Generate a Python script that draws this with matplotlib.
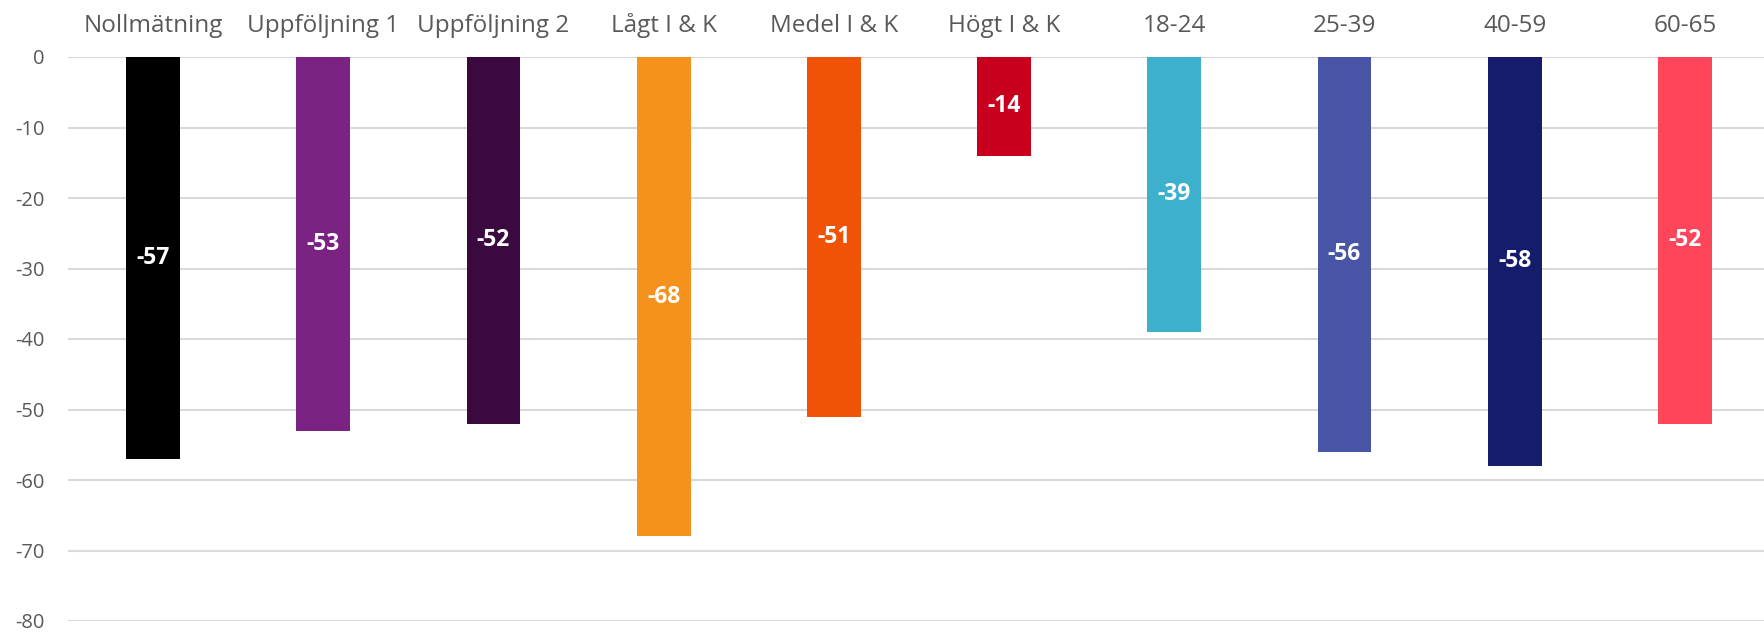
import matplotlib
matplotlib.use("Agg")
import matplotlib.pyplot as plt

categories = ["Nollmätning", "Uppföljning 1", "Uppföljning 2", "Lågt I & K", "Medel I & K",
              "Högt I & K", "18-24", "25-39", "40-59", "60-65"]
values = [-57, -53, -52, -68, -51, -14, -39, -56, -58, -52]
colors = ["#000000", "#7A2382", "#3B0940", "#F5921E", "#F05208",
          "#C8001E", "#3DB0CD", "#4854A5", "#141C6B", "#FF455A"]
yticks = [0, -10, -20, -30, -40, -50, -60, -70, -80]

plt.rcParams['font.family'] = ['Open Sans', 'DejaVu Sans']

fig = plt.figure(figsize=(17.65, 6.33), dpi=100)
ax = fig.add_axes([68/1765, 1 - 621/633, (1770-68)/1765, (621-57)/633])

x = list(range(len(categories)))
bars = ax.bar(x, values, width=0.317, color=colors, zorder=3)
for xi, v in zip(x, values):
    ax.text(xi, v/2, f"{v}", ha="center", va="center", color="white",
            fontsize=16.5, fontweight="bold", zorder=4)

ax.set_xlim(-0.5, len(categories) - 0.5)
ax.set_ylim(-80, 0)
ax.set_yticks(yticks)
ax.set_yticklabels([str(t) for t in yticks], color="#595959", fontsize=14.5)
ax.yaxis.grid(True, color="#D9D9D9", linewidth=1.5, zorder=0)
ax.tick_params(axis="y", length=0, pad=17)
ax.xaxis.tick_top()
ax.set_xticks(x)
ax.set_xticklabels(categories, color="#595959", fontsize=17.5)
ax.tick_params(axis="x", length=0, pad=13.5)
for s in ax.spines.values():
    s.set_visible(False)

fig.savefig("out.png", dpi=100)
